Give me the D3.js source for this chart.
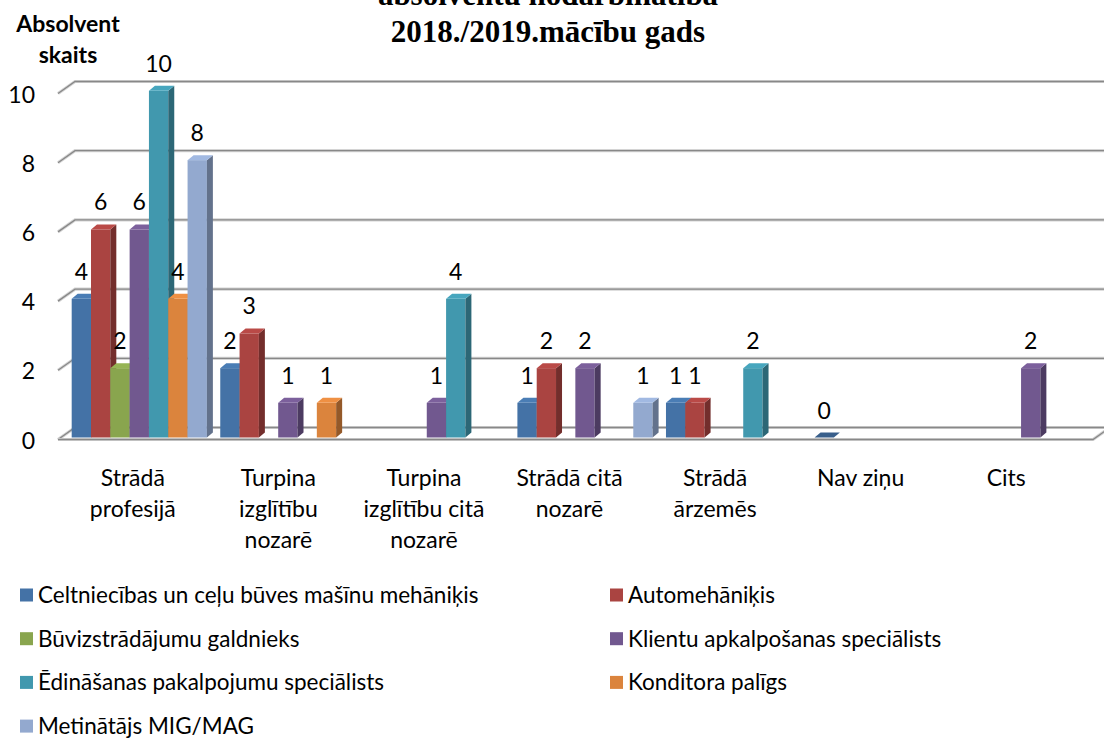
<!DOCTYPE html>
<html>
<head>
<meta charset="utf-8">
<script src="https://cdn.jsdelivr.net/npm/d3@7/dist/d3.min.js"></script>
<style>
  body { margin: 0; background: #fff; }
  svg text { font-family: Lato, "Noto Sans", sans-serif; fill: #000; }
</style>
</head>
<body>
<svg id="chart" width="1104" height="739"></svg>
<script>
const categories = [
  ["Strādā", "profesijā"],
  ["Turpina", "izglītību", "nozarē"],
  ["Turpina", "izglītību citā", "nozarē"],
  ["Strādā citā", "nozarē"],
  ["Strādā", "ārzemēs"],
  ["Nav ziņu"],
  ["Cits"]
];
const seriesNames = [
  "Celtniecības un ceļu būves mašīnu mehāniķis",
  "Automehāniķis",
  "Būvizstrādājumu galdnieks",
  "Klientu apkalpošanas speciālists",
  "Ēdināšanas pakalpojumu speciālists",
  "Konditora palīgs",
  "Metinātājs MIG/MAG"
];
const seriesColors = ["#4472A6", "#AA4441", "#89A54E", "#71588F", "#4198AE", "#DB843D", "#93A9CF"];
// one row per category, one value per series (null = no bar)
const values = [
  [4, 6, 2, 6, 10, 4, 8],
  [2, 3, null, 1, null, 1, null],
  [null, null, null, 1, 4, null, null],
  [1, 2, null, 2, null, null, 1],
  [1, 1, null, null, 2, null, null],
  [0, null, null, null, null, null, null],
  [null, null, null, 2, null, null, null]
];
const yTicks = [0, 2, 4, 6, 8, 10];
const titleLines = ["absolventu nodarbinātība", "2018./2019.mācību gads"];
const yTitle = ["Absolvent", "skaits"];

const svg = d3.select("#chart");

// back wall grid and bar scales
const yGrid = d3.scaleLinear().domain([0, 10]).range([427.5, 81.5]);
const yBar = d3.scaleLinear().domain([0, 10]).range([437.5, 90.8]);
const frontDx = -17, frontDy = 12;
const backLeft = 75, backRight = 1112;
const depthX = 6, depthY = -5;

const catIdx = d3.range(categories.length);
const x0 = d3.scaleBand().domain(catIdx).range([65, 1105]).paddingInner(0.09).paddingOuter(0.045);
const x1 = d3.scaleBand().domain(d3.range(seriesNames.length)).range([0, x0.bandwidth()]);
const xLabel = d3.scaleBand().domain(catIdx).range([60, 1079]);

// gridlines (left diagonal + back wall)
const grid = svg.append("g");
function gridPath(v) {
  const yb = yGrid(v);
  return `M${backLeft + frontDx},${yb + frontDy} L${backLeft},${yb} L${backRight},${yb}`;
}
grid.selectAll("path.halo").data(yTicks).join("path")
  .attr("d", gridPath).attr("fill", "none")
  .attr("stroke", "#d4d4d4").attr("stroke-width", 3.2);
grid.selectAll("path.line").data(yTicks).join("path")
  .attr("d", gridPath).attr("fill", "none")
  .attr("stroke", "#888").attr("stroke-width", 1.3);

// floor front edge
const floorY = yGrid(0) + frontDy;
const floorPath = `M${backLeft + frontDx},${floorY} L${1093},${floorY} L${1093 - frontDx},${yGrid(0)}`;
svg.append("path").attr("d", floorPath).attr("fill", "none").attr("stroke", "#d4d4d4").attr("stroke-width", 3.2);
svg.append("path").attr("d", floorPath).attr("fill", "none").attr("stroke", "#888").attr("stroke-width", 1.3);

// y tick labels
svg.append("g").selectAll("text").data(yTicks).join("text")
  .attr("x", 35).attr("y", d => yGrid(d) + frontDy + 9)
  .attr("text-anchor", "end").attr("font-size", 23)
  .text(d => d);

// bars
const bars = [];
values.forEach((row, c) => row.forEach((v, s) => {
  if (v !== null) bars.push({ c, s, v });
}));

const barG = svg.append("g");
bars.forEach(b => {
  const x = x0(b.c) + x1(b.s);
  const w = x1.bandwidth();
  const yTop = yBar(b.v), yBot = yBar(0);
  const base = d3.color(seriesColors[b.s]);
  const g = barG.append("g");
  if (b.v > 0) {
    g.append("rect").attr("x", x).attr("y", yTop).attr("width", w).attr("height", yBot - yTop)
      .attr("fill", base.formatHex());
    g.append("path")
      .attr("d", `M${x + w},${yTop} L${x + w + depthX},${yTop + depthY} L${x + w + depthX},${yBot + depthY} L${x + w},${yBot}Z`)
      .attr("fill", base.darker(1.1).formatHex());
  }
  g.append("path")
    .attr("d", `M${x},${yTop} L${x + depthX},${yTop + depthY} L${x + w + depthX},${yTop + depthY} L${x + w},${yTop}Z`)
    .attr("fill", b.v > 0 ? base.brighter(0.25).formatHex() : base.darker(0.5).formatHex());
});

// value labels
svg.append("g").selectAll("text").data(bars).join("text")
  .attr("x", d => x0(d.c) + x1(d.s) + x1.bandwidth() / 2)
  .attr("y", d => yBar(d.v) - 19)
  .attr("text-anchor", "middle").attr("font-size", 23)
  .text(d => d.v);

// category labels
const catG = svg.append("g").selectAll("text").data(categories).join("text")
  .attr("text-anchor", "middle").attr("font-size", 23)
  .attr("transform", (d, i) => `translate(${xLabel(i) + xLabel.bandwidth() / 2},0)`);
catG.selectAll("tspan").data(d => d).join("tspan")
  .attr("x", 0).attr("y", (d, i) => 486 + i * 31)
  .text(d => d);

// titles
svg.append("g").selectAll("text").data(titleLines).join("text")
  .attr("x", 548).attr("y", (d, i) => 5 + i * 37)
  .attr("text-anchor", "middle")
  .attr("font-size", 31).attr("font-weight", "bold")
  .style("font-family", "'Liberation Serif', 'DejaVu Serif', serif")
  .text(d => d);

svg.append("g").selectAll("text").data(yTitle).join("text")
  .attr("x", 68).attr("y", (d, i) => 32 + i * 31)
  .attr("text-anchor", "middle").attr("font-size", 23).attr("font-weight", "bold")
  .text(d => d);

// legend, two columns
const legend = svg.append("g").selectAll("g").data(seriesNames).join("g")
  .attr("transform", (d, i) => `translate(${i % 2 === 0 ? 20 : 610},${595 + Math.floor(i / 2) * 43.7})`);
legend.append("rect").attr("x", 0).attr("y", -6.5).attr("width", 13).attr("height", 13)
  .attr("fill", (d, i) => seriesColors[i]);
legend.append("text").attr("x", 18).attr("y", 8).attr("font-size", 22.5)
  .text(d => d);
</script>
</body>
</html>
